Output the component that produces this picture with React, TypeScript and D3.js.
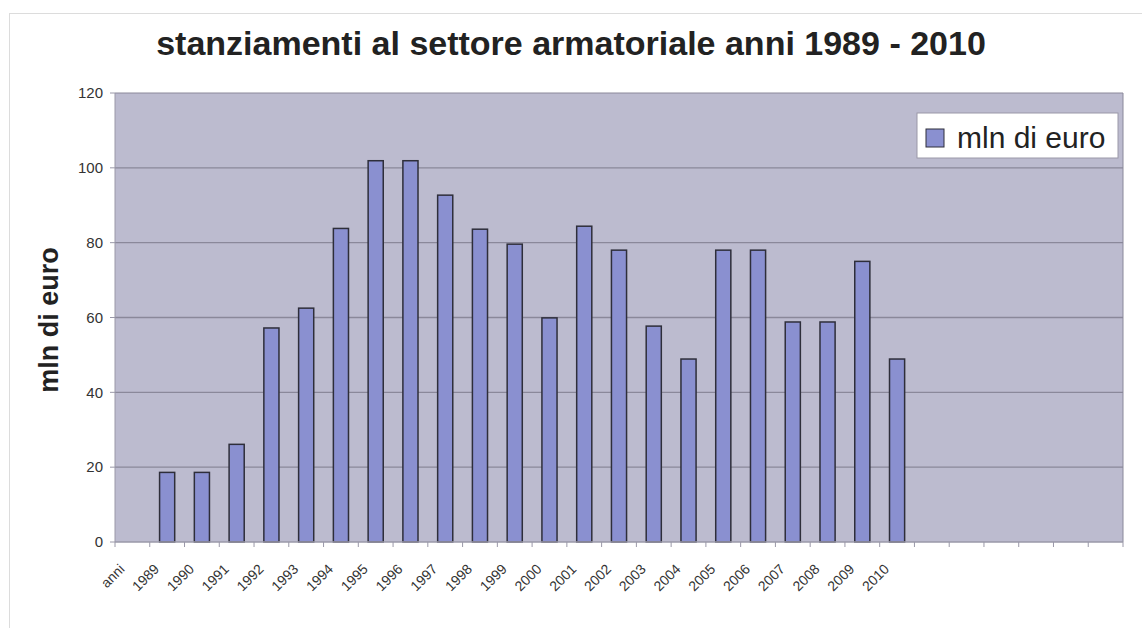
import React from "react";
import * as d3 from "d3";

const title = "stanziamenti al settore armatoriale anni 1989 - 2010";
const yAxisTitle = "mln di euro";
const seriesName = "mln di euro";
const leadingLabel = "anni";
const years = ["1989","1990","1991","1992","1993","1994","1995","1996","1997","1998","1999","2000","2001","2002","2003","2004","2005","2006","2007","2008","2009","2010"];
const values = [18.6,18.6,26.1,57.2,62.5,83.8,101.9,101.9,92.7,83.6,79.6,59.9,84.4,78,57.7,48.9,78,78,58.8,58.8,75,48.9];
const trailingEmpty = 6;
const yTicks = [0,20,40,60,80,100,120];

const categories = [leadingLabel, ...years, ...Array(trailingEmpty).fill("")];

const W = 1142, H = 628;
const plot = { left: 115, right: 1123, top: 93, bottom: 542 };
const FONT = "'Liberation Sans', Arial, Helvetica, sans-serif";

export default function App() {
  const x = d3.scaleBand<number>()
    .domain(d3.range(categories.length))
    .range([plot.left, plot.right])
    .paddingInner(0).paddingOuter(0);
  const y = d3.scaleLinear().domain([0, 120]).range([plot.bottom, plot.top]);
  const bw = x.bandwidth() / 2.3;
  const boundaries = d3.range(categories.length + 1).map(i => plot.left + i * x.bandwidth());

  return (
    <svg width={W} height={H} style={{ position: "absolute", left: 0, top: 0, background: "#fff" }} fontFamily={FONT}>
      <rect x={9.5} y={13.5} width={W} height={H} fill="#fff" stroke="#dcdcdc" />
      <text x={571} y={55} textAnchor="middle" fontSize={34} fontWeight="bold" fill="#222">{title}</text>
      <rect x={plot.left} y={plot.top} width={plot.right - plot.left} height={plot.bottom - plot.top} fill="#bcbbcf" />
      {yTicks.map(t => (
        <g key={t}>
          {t > 0 && t < 120 && <line x1={plot.left} x2={plot.right} y1={y(t)} y2={y(t)} stroke="#8a889a" strokeWidth={1.3} />}
          <line x1={plot.left - 5} x2={plot.left} y1={y(t)} y2={y(t)} stroke="#9a98a8" />
          <text x={103} y={y(t)} dy="0.35em" textAnchor="end" fontSize={15} fill="#333">{t}</text>
        </g>
      ))}
      {values.map((v, i) => {
        const cx = x(i + 1)! + x.bandwidth() / 2;
        return <rect key={years[i]} x={cx - bw / 2} y={y(v)} width={bw} height={plot.bottom - y(v)} fill="#8a90d0" stroke="#2e2e3a" strokeWidth={1.5} />;
      })}
      <line x1={plot.left} x2={plot.right} y1={plot.top} y2={plot.top} stroke="#8a889a" />
      <line x1={plot.right} x2={plot.right} y1={plot.top} y2={plot.bottom} stroke="#8a889a" />
      <line x1={plot.left} x2={plot.left} y1={plot.top} y2={plot.bottom} stroke="#9a98a8" />
      <line x1={plot.left} x2={plot.right} y1={plot.bottom} y2={plot.bottom} stroke="#9a98a8" strokeWidth={1.5} />
      {boundaries.map((bx, i) => (
        <line key={i} x1={bx} x2={bx} y1={plot.bottom} y2={plot.bottom + 5} stroke="#9a98a8" />
      ))}
      {categories.map((c, i) => c ? (
        <text key={i} transform={`translate(${x(i)! + x.bandwidth() / 2 - 7},570) rotate(-45)`} textAnchor="end" fontSize={14} fill="#333">{c}</text>
      ) : null)}
      <text transform={`translate(58,320) rotate(-90)`} textAnchor="middle" fontSize={27} fontWeight="bold" fill="#222">{yAxisTitle}</text>
      <rect x={917} y={113} width={201} height={45} fill="#fff" stroke="#9a98a8" />
      <rect x={926} y={129} width={18} height={18} fill="#8a90d0" stroke="#2e2e3a" />
      <text x={957} y={148} fontSize={30} fill="#222">{seriesName}</text>
    </svg>
  );
}
